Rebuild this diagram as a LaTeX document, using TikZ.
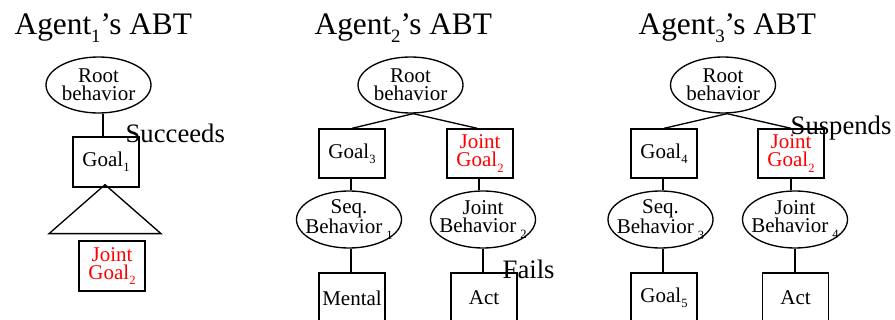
\documentclass[tikz,border=0pt]{standalone}
\usepackage{fontspec}
\setmainfont{Liberation Serif}
\usetikzlibrary{shapes.geometric}
% small lowered index, e.g. Goal_1
\newcommand\sbs[1]{\raisebox{-0.25em}{\scalebox{0.6}{#1}}}
% detached index after "Behavior"
\newcommand\bsub[1]{\kern0.2em\raisebox{-0.3em}{\scalebox{0.6}{#1}}}
\begin{document}
\begin{tikzpicture}[x=0.75pt, y=-0.75pt, line width=1pt,
  every node/.style={font=\fontsize{15.75}{13.5}\selectfont},
  abox/.style={draw, rectangle, minimum width=49.5pt, minimum height=37.5pt,
    inner sep=0pt, align=center},
  aell/.style={draw, ellipse, minimum width=78.75pt, minimum height=42pt,
    inner xsep=-14pt, inner ysep=-6pt, align=center},
  ttl/.style={anchor=base west, inner sep=0pt, font=\fontsize{23.5}{28}\selectfont},
  evt/.style={anchor=base west, inner sep=0pt, font=\fontsize{20}{24}\selectfont},
  jg/.style={text=red}]
\clip (0,0) rectangle (895,320);

% ---------------- Agent 1 ----------------
\node[ttl] (t1) at (14,35) {Agent\sbs{1}’s ABT};
\node[aell] (r1) at (98.5,85) {Root\\behavior};
\node[abox] (g1) at (106,162) {Goal\sbs{1}};
\node[abox, jg] (j1) at (112,266) {Joint\\Goal\sbs{2}};
\draw ([xshift=-2.25pt]g1.north) -- ([xshift=-2.25pt]g1.north |- r1.south);
\draw ([xshift=-0.75pt,yshift=2.25pt]g1.south) coordinate (apex)
  -- ++(-56,49) -- ++(112,0) -- cycle;
\node[evt] (succ) at (125,143) {Succeeds};

% ---------------- Agent 2 ----------------
\node[ttl] (t2) at (314,35) {Agent\sbs{2}’s ABT};
\node[aell] (r2) at (410.5,85) {Root\\behavior};
\node[abox, minimum height=36.75pt] (g3) at (352,153.5) {Goal\sbs{3}};
\node[abox, minimum height=36.75pt, jg] (jg2) at (480,153.5) {Joint\\Goal\sbs{2}};
\node[aell, minimum height=42.75pt] (sb1) at (349,219.5) {Seq.\\Behavior\bsub{1}};
\node[aell, minimum height=42.75pt] (jb2) at (483,219.5) {Joint\\Behavior\bsub{2}};
\node[abox] (men) at (352,298) {Mental};
\node[abox] (act2) at (484,298) {Act};
\draw ([xshift=2pt]r2.south) -- (g3.north);
\draw ([xshift=2pt]r2.south) -- ([xshift=-2pt]jg2.north);
\draw ([xshift=-0.75pt]g3.south) -- ([xshift=-0.75pt]g3.south |- sb1.north);
\draw ([xshift=-0.75pt]jg2.south) -- ([xshift=-0.75pt]jg2.south |- jb2.north);
\draw ([xshift=-0.75pt]men.north) -- ([xshift=-0.75pt]men.north |- sb1.south);
\draw ([xshift=-0.75pt]act2.north) -- ([xshift=-0.75pt]act2.north |- jb2.south);
\node[evt] (fails) at (502,278) {Fails};

% ---------------- Agent 3 ----------------
\node[ttl] (t3) at (638,35) {Agent\sbs{3}’s ABT};
\node[aell] (r3) at (723,85) {Root\\behavior};
\node[abox, minimum height=36.75pt] (g4) at (664,153.5) {Goal\sbs{4}};
\node[abox, minimum height=36.75pt, jg] (jg3) at (791,153.5) {Joint\\Goal\sbs{2}};
\node[aell, minimum height=42.75pt] (sb3) at (660.5,219.5) {Seq.\\Behavior\bsub{3}};
\node[aell, minimum height=42.75pt] (jb4) at (795,219.5) {Joint\\Behavior\bsub{4}};
\node[abox] (g5) at (664,298) {Goal\sbs{5}};
\node[abox] (act3) at (795.5,298) {Act};
\draw ([xshift=3pt]r3.south) -- (g4.north);
\draw ([xshift=3pt]r3.south) -- (jg3.north);
\draw ([xshift=-0.75pt]g4.south) -- ([xshift=-0.75pt]g4.south |- sb3.north);
\draw (jg3.south) -- (jg3.south |- jb4.north);
\draw ([xshift=-0.75pt]g5.north) -- ([xshift=-0.75pt]g5.north |- sb3.south);
\draw ([xshift=-0.4pt]act3.north) -- ([xshift=-0.4pt]act3.north |- jb4.south);
\node[evt] (susp) at (790,135) {Suspends};
\end{tikzpicture}
\end{document}
